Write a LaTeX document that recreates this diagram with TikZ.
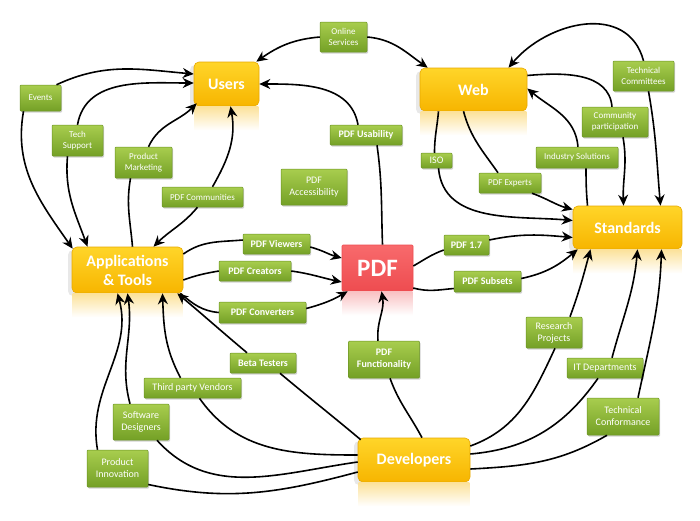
\documentclass[tikz,border=0pt]{standalone}
\usepackage{fontspec}
\setmainfont{Carlito}
\usetikzlibrary{arrows.meta,shadows}
\definecolor{ytop}{HTML}{FFD529}
\definecolor{ybot}{HTML}{F7B500}
\definecolor{yline}{HTML}{E8A900}
\definecolor{gtop}{HTML}{A8CD4E}
\definecolor{gbot}{HTML}{74A026}
\definecolor{gline}{HTML}{6B9423}
\definecolor{rtop}{HTML}{F86A6C}
\definecolor{rbot}{HTML}{EE4C50}
\begin{document}
\begin{tikzpicture}[x=1pt,y=1pt,
 mainbox/.style={rectangle, rounded corners=5pt, top color=ytop, bottom color=ybot, draw=yline, line width=0.6pt, text=white, font=\bfseries\fontsize{16}{19}\selectfont, align=center, inner sep=0pt, drop shadow={shadow xshift=-4pt, shadow yshift=-3pt, opacity=0.18}},
 pdfbox/.style={rectangle, rounded corners=1pt, top color=rtop, bottom color=rbot, draw=rbot, line width=0.6pt, text=white, font=\bfseries\fontsize{25}{25}\selectfont, inner sep=0pt},
 gbox/.style={rectangle, rounded corners=1pt, top color=gtop, bottom color=gbot, draw=gline, line width=0.5pt, text=white, font=\fontsize{9}{11}\selectfont, align=center, inner sep=0pt, drop shadow={shadow xshift=1.2pt, shadow yshift=-1.5pt, opacity=0.35}},
 gbig/.style={gbox, font=\fontsize{10}{12}\selectfont},
 gb/.style={gbox, font=\bfseries\fontsize{10}{12}\selectfont},
 conn/.style={line width=1.6pt, black},
 arr/.style={conn, -{Stealth[length=11pt,width=10pt]}},
 refl/.style={top color=ybot!40, bottom color=white, draw=none},
]
\fill[white] (0,0) rectangle (700,-520);
\useasboundingbox (0,0) rectangle (700,-520);

% main nodes
\node[mainbox, minimum width=65pt, minimum height=44pt] (users) at (226.5,-84) {Users};
\node[mainbox, minimum width=107pt, minimum height=43pt] (web) at (473.5,-89.5) {Web};
\node[mainbox, minimum width=111pt, minimum height=46pt] (apps) at (127.5,-270) {Applications\\\& Tools};
\node[mainbox, minimum width=109pt, minimum height=43pt] (std) at (627.5,-227.5) {Standards};
\node[mainbox, minimum width=112pt, minimum height=44pt] (dev) at (414,-460) {Developers};
\node[pdfbox, minimum width=71pt, minimum height=46pt] (pdf) at (377.5,-268) {PDF};

% reflections
\foreach \n in {users,web,apps,std,dev}{
  \fill[refl] ([xshift=1pt]\n.south west) rectangle ([xshift=-1pt,yshift=-24pt]\n.south east);
}
\fill[top color=rbot!35, bottom color=white] ([xshift=1pt]pdf.south west) rectangle ([xshift=-1pt,yshift=-24pt]pdf.south east);

% green nodes
\node[gbox, minimum width=47pt, minimum height=30pt] (os) at (343.5,-37) {Online\\Services};
\node[gbox, minimum width=41pt, minimum height=26pt] (ev) at (40.5,-98) {Events};
\node[gbox, minimum width=51pt, minimum height=31pt] (ts) at (77.5,-140.5) {Tech\\Support};
\node[gbox, minimum width=57pt, minimum height=31pt] (pm) at (143.5,-162.5) {Product\\Marketing};
\node[gbox, minimum width=81pt, minimum height=20pt] (pc) at (202.5,-197) {PDF Communities};
\node[gbig, minimum width=66pt, minimum height=36pt] (pa) at (314,-187) {PDF\\Accessibility};
\node[gb, minimum width=72pt, minimum height=20pt] (pu) at (366,-135) {PDF Usability};
\node[gbox, minimum width=61pt, minimum height=30pt] (tc) at (643.5,-76) {Technical\\Committees};
\node[gbox, minimum width=66pt, minimum height=30pt] (cp) at (615,-122) {Community\\participation};
\node[gbox, minimum width=82pt, minimum height=21pt] (is) at (577,-157.5) {Industry Solutions};
\node[gbig, minimum width=31pt, minimum height=15pt] (iso) at (436.5,-160.5) {ISO};
\node[gbox, minimum width=62pt, minimum height=20pt] (pe) at (510,-183) {PDF Experts};
\node[gb, minimum width=45pt, minimum height=20pt] (p17) at (466.5,-245) {PDF 1.7};
\node[gb, minimum width=67pt, minimum height=20pt] (pv) at (276.5,-244) {PDF Viewers};
\node[gb, minimum width=72pt, minimum height=20pt] (pcr) at (255,-271) {PDF Creators};
\node[gb, minimum width=87pt, minimum height=21pt] (pcv) at (262.5,-312.5) {PDF Converters};
\node[gb, minimum width=67pt, minimum height=21pt] (ps) at (487.5,-281.5) {PDF Subsets};
\node[gbig, minimum width=56pt, minimum height=31pt] (rp) at (554,-332.5) {Research\\Projects};
\node[gbig, minimum width=76pt, minimum height=20pt] (itd) at (605,-368) {IT Departments};
\node[gbig, minimum width=72pt, minimum height=37pt] (tcf) at (623,-416.5) {Technical\\Conformance};
\node[gb, minimum width=71pt, minimum height=37pt] (pf) at (384,-359.5) {PDF\\Functionality};
\node[gb, minimum width=66pt, minimum height=20pt] (bt) at (263,-363) {Beta Testers};
\node[gbig, minimum width=97pt, minimum height=20pt] (tpv) at (192.5,-388) {Third party Vendors};
\node[gbig, minimum width=56pt, minimum height=36pt] (sd) at (141,-422) {Software\\Designers};
\node[gbig, minimum width=61pt, minimum height=37pt] (pi) at (117.5,-468.5) {Product\\Innovation};

% connectors
\draw[arr] (os.west) to[out=185,in=35] ([xshift=-3pt]users.north east);
\draw[arr] (os.east) to[out=-5,in=145] ([xshift=8pt]web.north west);
\draw[arr] ([xshift=16pt]ev.north) to[out=25,in=175] ([yshift=10pt]users.west);
\draw[arr] ([xshift=-17pt]ev.south) to[out=-100,in=125] ([xshift=1pt,yshift=-2pt]apps.north west);
\draw[arr] (ts.north) to[out=80,in=180] ([yshift=1pt]users.west);
\draw[arr] ([xshift=-10pt]ts.south) to[out=-95,in=110] ([xshift=-40pt]apps.north);
\draw[arr] ([xshift=5pt]pm.north) to[out=65,in=-135] ([xshift=3pt,yshift=3pt]users.south west);
\draw[conn] ([xshift=-13pt]pm.south) to[out=-100,in=95] ([xshift=5pt]apps.north);
\draw[arr] ([xshift=10pt]pc.north) to[out=60,in=-80] ([xshift=4pt]users.south);
\draw[arr] ([xshift=-5pt]pc.south) to[out=-130,in=45] ([xshift=26pt]apps.north);
\draw[conn] ([xshift=5pt]pdf.north) to[out=92,in=-82] ([xshift=11pt]pu.south);
\draw[arr] ([xshift=-8pt]pu.north) to[out=100,in=0] (users.east);
\draw[arr] (tc.north) to[out=105,in=50,looseness=1.15] ([xshift=35pt]web.north);
\draw[arr] ([xshift=5pt]tc.south) to[out=-80,in=95] ([xshift=33pt]std.north);
\draw[conn] ([yshift=14pt]web.east) to[out=5,in=95] ([xshift=-3pt]cp.north);
\draw[arr] ([xshift=8pt]cp.south) to[out=-80,in=92] ([xshift=-4pt]std.north);
\draw[conn] ([xshift=-40pt]std.north) to[out=95,in=-90] ([xshift=9pt]is.south);
\draw[arr] ([xshift=1pt]is.north) to[out=95,in=-40] ([yshift=1pt]web.east);
\draw[conn] ([xshift=-35pt]web.south) to[out=-95,in=90] ([xshift=-2pt]iso.north);
\draw[arr] ([xshift=2pt]iso.south) to[out=-85,in=175] ([yshift=7pt]std.west);
\draw[conn] ([xshift=-10pt]web.south) to[out=-75,in=125] ([xshift=-12pt]pe.north);
\draw[arr] ([xshift=22pt]pe.south) to[out=-20,in=165] ([yshift=18pt]std.west);
\draw[conn] ([yshift=2pt]pdf.east) to[out=30,in=200] ([yshift=-5pt]p17.west);
\draw[arr] ([yshift=5pt]p17.east) to[out=12,in=175] ([yshift=-10pt]std.west);
\draw[conn] ([yshift=-20pt]pdf.east) to[out=-15,in=185] ([yshift=-7pt]ps.west);
\draw[arr] ([yshift=3pt]ps.east) to[out=12,in=-140] ([xshift=5pt]std.south west);
\draw[conn] ([yshift=16pt]apps.east) to[out=35,in=185] ([yshift=4pt]pv.west);
\draw[arr] ([yshift=-3pt]pv.east) to[out=-15,in=165] ([yshift=10pt]pdf.west);
\draw[conn] ([yshift=-10pt]apps.east) to[out=20,in=190] (pcr.west);
\draw[arr] (pcr.east) to[out=-8,in=168] ([yshift=-14pt]pdf.west);
\draw[conn] ([xshift=-3pt]apps.south east) to[out=-40,in=175] (pcv.west);
\draw[arr] ([yshift=4pt]pcv.east) to[out=15,in=-150] ([xshift=6pt]pdf.south west);
\draw[conn] ([xshift=8pt]dev.north) to[out=118,in=-70] ([xshift=6pt]pf.south);
\draw[arr] ([xshift=-6pt]pf.north) to[out=95,in=-80] ([xshift=4pt]pdf.south);
\draw[conn] ([yshift=14pt]dev.east) to[out=20,in=-115] ([xshift=1pt]rp.south);
\draw[arr] ([xshift=16pt]rp.north) to[out=70,in=-105] ([xshift=-37pt]std.south);
\draw[conn] ([yshift=6pt]dev.east) to[out=5,in=-125] ([xshift=-7pt]itd.south);
\draw[arr] ([xshift=7pt]itd.north) to[out=75,in=-95] ([xshift=10pt]std.south);
\draw[conn] ([yshift=-9pt]dev.east) to[out=3,in=-150] ([xshift=-16pt]tcf.south);
\draw[arr] ([xshift=15pt]tcf.north) to[out=78,in=-92] ([xshift=34pt]std.south);
\draw[conn] ([xshift=3pt,yshift=-2pt]dev.north west) to[out=140,in=-40] ([xshift=17pt]bt.south);
\draw[arr] ([xshift=-16pt]bt.north) to[out=140,in=-40] ([xshift=-6pt]apps.south east);
\draw[conn] ([yshift=5pt]dev.west) to[out=180,in=-55] ([xshift=7pt]tpv.south);
\draw[arr] ([xshift=-12pt]tpv.north) to[out=118,in=-88] ([xshift=35pt]apps.south);
\draw[conn] ([yshift=-2pt]dev.west) to[out=188,in=-48] ([xshift=16pt]sd.south);
\draw[arr] ([xshift=-11pt]sd.north) to[out=105,in=-82] (apps.south);
\draw[conn] ([yshift=-12pt]dev.west) to[out=195,in=-12] ([yshift=-16pt]pi.east);
\draw[arr] ([xshift=-20pt]pi.north) to[out=100,in=-75] ([xshift=-10pt]apps.south);
\end{tikzpicture}
\end{document}
